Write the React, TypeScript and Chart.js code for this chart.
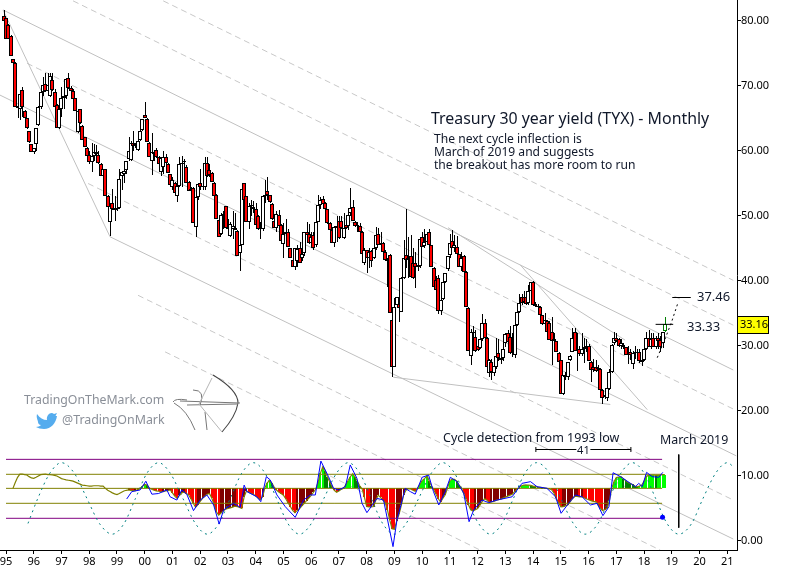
import React, { useEffect, useRef } from "react";
import { Chart, registerables } from "chart.js";

Chart.register(...registerables);

// Candles: one row per month; first month is Dec 1994 (month -1, month 0 = Jan 1995).
const firstCandleMonth = -1;
const opens = [
  80.7,80.4,79.4,77.7,74.1,73.6,66.9,66.4,69.4,66.2,65,63,
  61.1,59.8,61.1,64,66.8,69.1,70.3,69.3,68.5,70.9,69,67,
  63.6,66.4,68.1,68.4,71.2,69.7,69.2,68.1,62.9,66.4,63.9,62.1,
  60.4,59.4,58.3,59.3,59.9,59.4,58,56.2,57.2,53.1,49.1,52,
  50.9,51,51.2,56.2,56.5,57,58.7,58.6,61.2,61,60.2,61.7,
  63.3,65.5,64.9,61.3,58.4,59.8,60.2,59.1,56.8,57.5,59,58,
  56.4,54.5,55,53,54.6,58,58.5,57.6,55.3,54,54.3,48.3,
  52.9,55,54.4,54.4,58.2,57,56.6,55.1,53.3,49.4,47.2,50,
  51.5,48.2,46.9,48,48.2,47.7,44.3,45.6,55,53,49,51.5,
  51.4,51,50,48,48,53,53.8,53.2,51.9,49.3,48.1,50.2,
  48.6,45.7,47.2,47.6,45,43.2,42.2,43,45,43.5,44.3,47.5,
  47.3,45.8,47.1,45.5,49.1,51.7,52.6,52,51,48.9,47.9,45.9,
  48.2,49.3,49.3,46.6,48.6,48.4,50.4,51.4,49.1,48.4,48.4,47.6,
  42.8,44.7,43.6,44.6,43.6,45,47.2,45.6,45.8,44.5,43.2,44,
  34,26.8,36.3,36.5,35.3,40.5,44,43.2,43.9,42.7,42.7,42.2,
  42.3,46.8,45.4,46,47.6,45.5,42,40.2,40.4,35.4,37.2,39.9,
  41.8,44,46.2,45,45.2,44.1,42.1,43.8,41.4,35.9,28.5,32,
  31.4,30,29.7,31,33.5,31.3,25.9,27.5,25.9,26.8,28.9,28.1,
  28.2,30.5,32,31.4,28.9,28.6,33.2,35.3,37.6,37.6,37.5,36.6,
  38.4,39.8,36.4,36.2,36,34.7,33.4,33.9,33.6,32.2,30.8,30.7,
  28.9,27.8,22.6,25.5,25.3,27.9,29.1,32.1,29.3,29.5,28.8,29.5,
  29.8,30,27.6,26.8,26.8,26.5,26.5,23.3,22.2,22,23.4,26,
  30.4,31.3,31,30,30.2,29.8,28.6,29,27.3,28.9,28.9,29.1,
  27.5,27.9,29.5,31.3,29.9,31.3,29.9,31.2,30.9,30.4,32.3,
];
const highs = [
  81.7,80.5,79.5,77.8,74.2,73.7,67.5,69,69.8,66.3,65.1,63.1,
  61.1,60.5,63.5,66.9,69,71.4,72,72,72,72,69.5,67.2,
  66.4,69.9,68.5,71.2,72,70,69.5,68.2,66.1,66.5,64,62.2,
  60.6,60,61.2,61,60.9,60,58.1,57.3,57.3,53.2,51.6,54.2,
  53,53.5,57.3,56.9,57,58.5,62.2,61.5,63,61.2,62,64.3,
  64.9,67.6,65,61.4,62.7,60,60.5,59.3,59,60,59.5,58.1,
  56.5,56,55.2,54.8,59.1,59.2,58.8,57.8,55.4,54.5,54.5,52.9,
  55,57.3,55,59,59,58,56.8,55.2,53.4,49.5,50.5,50.8,
  51.6,49.5,49,50.7,50.5,47.8,46,54.1,55.1,53.1,52,52.5,
  52.3,52,50.2,49,53.1,55.5,56,53.3,52,49.5,50.7,50.9,
  48.7,48.9,49.5,48,45.1,43.4,45.1,45.5,46,45,47.6,49,
  48.8,47.5,47.5,49.2,53.2,52.9,53,52.2,51.1,49,48,48.5,
  50,50,50,50.4,49,51,54.3,52.5,49.3,49,48.9,47.7,
  45,44.8,45,44.8,45.5,48.3,48.1,47.5,46,44.7,43.5,44.1,
  34.2,37.4,37.5,37,40.6,46.3,51,46.8,47,45,44.5,45.5,
  46.5,47.5,48,47.5,48,45.6,42.1,40.8,40.9,37.5,40,41.3,
  43.9,47.3,47.9,47,46.9,44.2,44.5,44,41.5,36,32.6,33,
  32.5,30.5,31.2,34.9,34.2,31.4,28,28,27,31.2,31,29.5,
  30.5,32,32.5,33,32,33.6,35.5,38,38,38.5,38,39.4,
  39.9,40,36.8,36.5,36.2,34.8,35,34,33.8,34.5,32,30.8,
  29,27.9,25.6,26,27.6,28.6,32.7,32.8,32,30,32,31.2,
  31,30.3,27.7,28,27.8,27,26.6,23.4,22.5,23.5,26.5,30.3,
  32.2,32,31.2,31,30.5,29.9,30,29.6,29.3,30,29.5,29.6,
  28,29.5,32.1,32.4,32,32,31.5,32,31.5,32.2,34.5,
];
const lows = [
  78.6,77.3,77.3,74.6,73.4,66.8,65.1,64.8,65.3,65,63.4,61.3,
  59.8,59.6,60,63.8,66.5,68.5,69,68.5,68.3,69.3,66.6,63.5,
  63.4,65.2,66.5,68,69.6,69.2,68,66.1,62.8,64.2,61.7,60.6,
  59.3,58,56.7,58.5,58.5,58,56.2,55.5,53,51.4,46.9,50.9,
  49.2,50.8,51,54,55,56.5,58.5,58.5,60,60.5,60,61.5,
  63,65,61.4,59.1,56.3,58.5,58.9,58,56.2,56.5,58,56.6,
  54.6,54,53.5,52.2,54.5,54.5,56,55,53.8,53.5,48.9,46.7,
  52.5,54,54,54,56,56,55.3,53.1,49.5,46.8,47,48,
  48,47,46.7,46.5,47.8,43.8,41.5,45.5,52.3,49,48,50,
  50.5,48.6,47.9,46.4,47.7,52,52.5,52,49.4,48.1,47.5,48.3,
  46,43.5,46,45.2,43.5,42.1,41.7,42.2,42.7,43,43.8,46,
  45.7,45,44.8,45.2,49,51,51.8,50.9,48.8,47.8,45.8,45.3,
  46,46.5,48,46.4,48,47.9,50,49.2,48.3,47.5,47.6,44.1,
  42.4,41.2,42,42.1,43.4,44.8,45.5,44.5,44.3,43.2,39,35,
  25.2,26.7,35.8,33.7,35.2,40.3,42,40.5,40.5,40.3,38.9,41.5,
  42,45.3,45,45.8,45.5,42.1,39.1,38.5,34.9,34.7,37,39.7,
  41.5,43.5,45,44.5,44.1,42.1,41.5,41.4,36,29.2,27,29.5,
  29.1,29.3,29.5,30.8,31.3,26.8,25.2,24.7,25.4,26.5,27.7,27.2,
  27.7,29.9,30.5,28.8,28.3,28.1,33,35,36.3,36.5,36.3,36.3,
  38.2,36.2,36,35.8,34.7,33.3,33,32.2,30.9,27,29.5,29.1,
  27.6,22.6,22.4,24.8,24.7,27.7,29,29.2,26.2,28.4,28.5,27.4,
  29,27.7,24.5,26,26,26,23.2,21,21.8,21.6,23.2,25.9,
  30.2,30.6,29.9,29.5,29.5,28.6,27.3,27.8,26.5,28,28.3,27.4,
  26.9,27.7,29.4,29.9,29.5,29.9,29.5,29.5,29,29.7,32.1,
];
const closes = [
  80,77.3,77.3,74.6,73.5,66.8,66.6,68.7,66.7,65,63.5,61.4,
  59.9,60.4,63.5,66.8,69,70.1,69.3,70.2,71.5,69.4,66.7,63.6,
  66.4,68.1,68.5,71.1,69.7,69.3,68,66.2,66.1,64.3,61.7,60.6,
  59.3,58.3,59.3,59.9,59.6,58.1,56.2,57.2,53,51.4,51.6,51,
  51.3,51.2,55.7,56.8,56.9,58.4,60,61.2,60.8,60.7,61.5,63.1,
  64.9,65,61.4,59.1,59.8,59.8,59,58,58.9,59,58.1,56.6,
  54.7,55.5,53.5,54.6,58,58.2,58.3,55.1,53.9,54.1,48.9,52.9,
  54.9,54.4,54.6,58.2,56.2,56.3,55.3,53.1,49.5,46.8,50.1,50.3,
  48.1,48,48.7,48.4,47.9,43.9,45.6,54.1,52.4,49,51.5,51.7,
  51,48.6,48,48.2,53,53.2,53.3,52.2,49.5,48.1,50.3,48.4,
  46.1,47.2,47.6,45.3,43.6,42.2,45,44.9,42.8,44.2,47.6,47.1,
  45.8,46.8,45,49.1,51.7,52.4,51.9,51,48.9,47.9,45.8,48.3,
  48.5,46.6,48.1,48.1,48.1,50.1,51.3,49.3,48.4,48.6,47.6,44.2,
  44.8,43.6,44.5,43.1,45,47.1,45.5,45.9,44.4,43.2,43,35,
  26.8,36,37.5,35.8,40.5,43.5,43.2,43.6,40.6,40.4,42.1,42.5,
  46.5,45.3,46,47.3,45.5,42.1,39.1,38.6,35.4,37,39.9,41.2,
  43.8,45.8,45,45.5,44.2,42.1,43.5,41.4,36,29.2,32.1,32.2,
  29.2,29.4,31,33.6,31.3,26.8,27.8,26,26.9,28.5,28.1,28.2,
  29.6,31.8,30.6,28.9,29,33.2,35.2,36.6,36.6,36.7,36.5,38.4,
  39.9,36.3,36.2,36,34.8,33.4,34,32.2,30.9,30.8,31,29.1,
  27.6,22.6,25.5,25.3,27.5,28.5,31.2,29.3,29.4,28.7,29.5,29.8,
  30,27.7,26.3,26.3,26.2,26.6,23.2,22,22.4,23.5,26,30.2,
  31.3,30.7,30,30.4,29.8,28.6,28.8,28.6,28.9,29,29.1,27.7,
  27.9,29.5,31.3,29.9,31,29.9,31.3,30.8,29.9,32.1,33.35,
];

// Oscillator: smoothed value per month from month 3 (the histogram is drawn from month 53).
const oscStartMonth = 3;
const histStartMonth = 53;
const oscValues = [
  8.1,9,9.8,10.3,10.3,10.2,10.15,9.9,9.7,9.65,9.8,10,10.2,10.26,10.3,10.2,10.2,10.15,10.1,10,9.8,9.6,9.5,9.4,9.35,9.28,9.2,9.05,8.9,8.75,8.6,8.55,8.5,8.45,8.45,8.5,8.5,8.5,8.45,8.45,8.1,7.8,7.6,7.4,7.25,7.15,7.3,7.5,7.7,7.8,
  7.85,7.8,7.75,7.75,7.9,8.05,8.4,8.7,8.6,8.15,7.95,7.8,7.7,7.65,7.6,7.6,7.7,7.75,7.85,7.4,6.9,6.55,7,7.4,7.5,7.3,7.1,6.5,5.8,5.2,5.6,6.1,6.55,6.9,7.2,7.3,6.6,5.6,4.5,4,4.3,4.6,4.9,5,5.1,5.2,5.35,5.3,5.15,5,6.8,7.7,7.5,7.3,7.2,6.9,6.6,6.35,6.8,8.2,8.95,9.3,8.9,8.3,7.85,7.55,7.3,7.05,6.5,5.9,5.3,4.7,4.35,4.7,5,5.4,5.8,6.2,6.6,7,7.5,8,9,10.4,11.4,10.8,9.9,9.1,8.4,7.8,7.5,7.7,7.95,8.1,8.7,9.3,9.9,10.35,9.8,9.2,8.5,8.05,6.8,5.3,5.25,5.25,5.3,6.3,7.05,6.7,6.3,5.9,4.8,3.2,1.9,1.8,3.1,4.1,5.5,7.1,7.8,8.05,8,7.8,7.65,8.1,8.7,9.3,9.6,9.95,9.3,8.5,7.9,7.2,6.5,6,6.6,7.1,8.2,9.3,9.5,9.5,9.2,8.6,8.15,7.3,6.4,5.6,4.8,4.6,4.8,5,5.5,6.1,6.5,6.3,5.95,6,6.1,6.25,6.35,6.45,6.6,6.75,6.9,7.05,7.2,7.6,8,8.2,8.5,8.6,8.6,8.6,8.55,8.45,8.4,8.3,8.25,8.2,8.15,8.1,8,7.9,7.4,6.6,5.9,5.25,5.3,5.45,5.55,6,6.5,6.85,6.85,6.8,6.8,6.65,6.5,6.35,6.2,6.1,6.05,5.6,5.1,4.7,4.8,5.05,6.2,8.1,9.1,9.75,9.85,9.9,9.6,9.3,9,8.85,8.7,8.45,8.35,8.45,8.6,9.2,9.95,10.1,10.15,10.15,10.1,10.1,10.15,10.2,10.2,
];
const oscBase = 8.1;

const fastMonths = [52.2,54.4,58,60.5,63.1,65.9,69.6,71,73.9,76,78.2,81.1,84,86.9,89.8,92.2,94.1,98.4,101.3,103,104.2,108.5,110.2,112.6,114.3,117.2,120.8,125.1,128.7,131.6,133.8,136.2,139.5,141.7,143.9,146.8,148.9,151.8,154,156.1,160.5,163.3,167.4,169.1,172.7,174.9,177,180,182.8,184.9,187.2,190,192.2,195.1,198,200.3,202.3,205.9,208.8,212.4,218.9,223.2,226.9,229.7,234,237.7,240.1,243.4,246.3,249.2,252.8,255.7,258.2,260.8,262.6,265.8,270.1,272.3,273.7,275.2,277.1,279.5,282.4,284.1];
const fastValues = [6.46,7.6,7.85,9.2,7.2,7.3,7.85,6.8,6.3,7.85,7.2,4.67,6.3,7.08,5.54,2.6,4.77,5.8,5.18,8.6,7.6,6.8,6.05,9.9,9.4,7.08,5.28,3.64,6.3,7.08,7.08,12.3,9.9,8.1,7.85,8.36,11.7,9.64,5.8,4.36,6.56,6.3,-0.87,3.2,8.1,7.6,7.2,9.8,10.15,7.6,5.54,7.6,9.8,9.13,7.33,2.97,4.77,6.3,5.9,6.3,6.8,8.87,9.13,8.36,8.1,6.8,4.26,5.8,7.08,6.8,5.54,5.8,3.9,5.28,10.5,9.9,8.87,8.36,8.87,8.36,10.56,9.9,9.8,10.56];

const cycleMonths = [9.5,13.75,19,24,29.5,35,40.5,46,51,56,61,66,71,76.5,82,87,92,97,102,107,112,117,122,127,132,137.5,143,148,153,158,163,168,173,178.5,184,189,194,199,204.5,209.5,214.5,219.5,224.5,229.5,235,240,245.5,250.5,256,261,266,271,276,281,286,291,296.5,301.5,307,312,315];
const cycleValues = [2.7,6.55,10.45,12.05,10.45,6.55,2.65,1.05,2.65,6.55,10.45,12.05,10.45,6.55,2.65,1.05,2.65,6.55,10.45,12.05,10.45,6.55,2.65,1.05,2.65,6.55,10.45,12.05,10.45,6.55,2.65,1.05,2.65,6.55,10.45,12.05,10.45,6.55,2.65,1.05,2.65,6.55,10.45,12.05,10.45,6.55,2.65,1.05,2.65,6.55,10.45,12.05,10.45,6.55,2.65,1.05,2.65,6.55,10.45,12.05,11.3];

const purpleLevels = [12.56, 3.49];
const oliveLevels = [10.26, 8.1, 5.8];
const levelStart = 0;
const levelEnd = 283.8;

// Channel lines: [month, value, month, value]
const solidLines = [
  [-1.3,81.7,314.6,26.3],
  [-2.6,68.6,315.9,13.1],
  [45,46.8,314.6,0.3],
  [-1.3,81.7,45,46.8],
  [167.5,25.2,261.4,21],
  [191.2,48.2,267.8,30.9],
  [222.4,42.5,277.4,20.2],
];
const dashedLines = [
  [29,83.1,314.6,33.2],
  [68,83.1,314.6,40.1],
  [9.1,73.5,314.6,20.3],
  [35.5,55,314.6,6.3],
  [57.1,37.8,283,-1.4],
  [68.8,29.1,244,-1.4],
  [140.2,10,205.1,-1.4],
];

const forecastMonths = [281.7, 285, 288, 290.8];
const forecastValues = [28.2, 31, 33.8, 36.8];
const target1 = { value: 37.46, from: 288.2, to: 296.2 };
const target2 = { value: 33.33, from: 281, to: 288.6 };
const marchMonth = 291;
const marchRange = [13.3, 2.05];
const bracket = { from: 229.2, to: 270.3, value: 14.1, label: "41" };
const lastPrice = 33.16;
const dotPoint = { month: 284, value: 3.64 };

const yearLabels = ["95","96","97","98","99","00","01","02","03","04","05","06","07","08","09","10","11","12","13","14","15","16","17","18","19","20","21"];
const priceTicks = [0,10,20,30,40,50,60,70,80];

const title = "Treasury 30 year yield (TYX) - Monthly";
const noteLines = ["The next cycle inflection is","March of 2019 and suggests","the breakout has more room to run"];
const cycleTitle = "Cycle detection from 1993 low";
const marchTitle = "March 2019";
const siteName = "TradingOnTheMark.com";
const handle = "@TradingOnMark";

const FONT = '"Noto Sans", Tahoma, sans-serif';

const linePair = (s: number[], color: string, dash: number[], order: number) => ({
  type: "line" as const,
  data: [{ x: s[0], y: s[1] }, { x: s[2], y: s[3] }],
  borderColor: color,
  borderWidth: 1,
  borderDash: dash,
  pointRadius: 0,
  order,
  tension: 0,
});

const snapBars: any = {
  id: "snapBars",
  afterDatasetsUpdate(chart: any) {
    chart.data.datasets.forEach((ds: any, idx: number) => {
      if (!ds.snap) return;
      chart.getDatasetMeta(idx).data.forEach((el: any) => {
        const x = Math.round(el.x);
        el.x = ds.snap === "wick" ? x + 0.5 : x;
        const top = Math.round(Math.min(el.y, el.base));
        let bottom = Math.round(Math.max(el.y, el.base));
        if (bottom <= top) bottom = top + (ds.snap === "body" ? 2 : 1);
        el.y = top;
        el.base = bottom;
        el.height = bottom - top;
      });
    });
  },
};

const overlay: any = {
  id: "overlay",
  afterDatasetsDraw(chart: any) {
    const { ctx, scales } = chart;
    const X = scales.x;
    const Y = scales.y;
    ctx.save();
    ctx.textBaseline = "middle";
    ctx.textAlign = "left";
    const text = (s: string, x: number, y: number, size: number, color = "#10182a") => {
      ctx.font = `${size}px ${FONT}`;
      ctx.fillStyle = color;
      ctx.fillText(s, x, y);
    };
    const seg = (x1: number, y1: number, x2: number, y2: number) => {
      ctx.beginPath();
      ctx.moveTo(x1, y1);
      ctx.lineTo(x2, y2);
      ctx.stroke();
    };
    text(title, 431, 119, 15.9);
    noteLines.forEach((l, i) => text(l, 434, 140 + i * 13, 12.1));
    text(cycleTitle, 443, 438, 12.5);
    text(marchTitle, 660, 440, 12.4);
    text("37.46", 697, 297, 13);
    text("33.33", 687, 327, 13);
    text(siteName, 24, 400.5, 12.3, "#8a8f98");
    text(handle, 62, 420, 12.4, "#8a8f98");

    ctx.strokeStyle = "#000";
    ctx.lineWidth = 1;
    const by = Math.round(Y.getPixelForValue(bracket.value)) + 0.5;
    const bx1 = X.getPixelForValue(bracket.from);
    const bx2 = X.getPixelForValue(bracket.to);
    seg(bx1, by, bx2, by);
    seg(bx1, by - 2.5, bx1, by + 2.5);
    seg(bx2, by - 2.5, bx2, by + 2.5);
    const mid = (bx1 + bx2) / 2;
    ctx.fillStyle = "#fff";
    ctx.fillRect(mid - 7, by - 5, 14, 10);
    ctx.textAlign = "center";
    text(bracket.label, mid, by + 1, 11);
    ctx.textAlign = "left";

    // last price tag
    const ty = Y.getPixelForValue(lastPrice + 0.1);
    ctx.fillStyle = "#ffff00";
    ctx.fillRect(737, Math.round(ty) - 8.5, 31, 17);
    ctx.strokeRect(737.5, Math.round(ty) - 8.5, 31, 17);
    text(lastPrice.toFixed(2), 740, ty + 0.5, 11, "#000");

    // blue dot
    ctx.fillStyle = "#0000ff";
    ctx.beginPath();
    ctx.arc(X.getPixelForValue(dotPoint.month), Y.getPixelForValue(dotPoint.value), 2.5, 0, Math.PI * 2);
    ctx.fill();

    // twitter bird
    ctx.fillStyle = "#55acee";
    ctx.beginPath();
    ctx.moveTo(37, 414);
    ctx.bezierCurveTo(40, 418, 43, 420, 47, 420);
    ctx.bezierCurveTo(46, 415, 51, 411, 54, 414);
    ctx.lineTo(57, 413);
    ctx.lineTo(55.5, 416);
    ctx.lineTo(57, 416);
    ctx.bezierCurveTo(56, 423, 51, 429, 44, 429);
    ctx.bezierCurveTo(41, 429, 38, 428, 36, 427);
    ctx.bezierCurveTo(38, 427, 40, 426, 41, 425);
    ctx.bezierCurveTo(39, 425, 38, 423, 38, 422);
    ctx.bezierCurveTo(38, 420, 36, 418, 37, 414);
    ctx.fill();

    // archer mark
    ctx.strokeStyle = "#444";
    ctx.lineWidth = 1.1;
    ctx.beginPath();
    ctx.moveTo(213, 375);
    ctx.quadraticCurveTo(238, 390, 238, 403);
    ctx.quadraticCurveTo(236, 416, 222, 432);
    ctx.stroke();
    ctx.strokeStyle = "#777";
    ctx.lineWidth = 1;
    seg(180, 401, 240, 403);
    seg(187, 405, 238, 404);
    ctx.beginPath();
    ctx.moveTo(173, 402);
    ctx.quadraticCurveTo(175, 398, 187, 400);
    ctx.moveTo(174, 403);
    ctx.quadraticCurveTo(187, 410, 195, 430);
    ctx.stroke();
    ctx.beginPath();
    ctx.moveTo(193, 390);
    ctx.quadraticCurveTo(206, 390, 200, 405);
    ctx.stroke();
    ctx.beginPath();
    ctx.moveTo(205, 412);
    ctx.lineTo(207, 430);
    ctx.stroke();
    ctx.strokeStyle = "#b5b5b5";
    seg(212, 378, 199, 404);
    seg(199, 404, 222, 432);
    ctx.restore();
  },
};

export default function App() {
  const ref = useRef<HTMLCanvasElement | null>(null);
  useEffect(() => {
    if (!ref.current) return;
    const candleX = (i: number) => firstCandleMonth + i;
    const last = closes.length - 1;
    const edge = closes.map((_, i) => (i === last ? "#008000" : "#000000"));
    const fills = closes.map((c, i) => (c < opens[i] ? "#ff0000" : "#ffffff"));
    const histVals = oscValues.slice(histStartMonth - oscStartMonth);
    const histColors = histVals.map((v, i) => {
      const prev = i > 0 ? histVals[i - 1] : v;
      if (v >= oscBase) return v >= prev ? "#00ff00" : "#008000";
      return v >= prev ? "#800000" : "#ff0000";
    });

    const barCommon = { type: "bar" as const, grouped: false, borderSkipped: false, inflateAmount: 0 };
    const datasets: any[] = [
      ...dashedLines.map((s) => linePair(s, "#c8c8c8", [6, 4], 90)),
      ...solidLines.map((s) => linePair(s, "#c0c0c0", [], 89)),
      ...purpleLevels.map((v) => linePair([levelStart, v, levelEnd, v], "#800080", [], 20)),
      {
        ...barCommon,
        snap: "hist",
        data: histVals.map((v, i) => ({ x: histStartMonth + i, y: [oscBase, v] })),
        backgroundColor: histColors,
        barThickness: 2,
        borderWidth: 0,
        order: 30,
      },
      ...oliveLevels.map((v) => linePair([levelStart, v, levelEnd, v], "#808000", [], 19)),
      {
        type: "line",
        data: oscValues.map((v, i) => ({ x: oscStartMonth + i, y: v })),
        borderColor: "#808000",
        borderWidth: 1.2,
        pointRadius: 0,
        tension: 0,
        order: 12,
      },
      {
        type: "line",
        data: fastMonths.map((m, i) => ({ x: m, y: fastValues[i] })),
        borderColor: "#0000ff",
        borderWidth: 1,
        pointRadius: 0,
        tension: 0,
        order: 11,
      },
      {
        type: "line",
        data: cycleMonths.map((m, i) => ({ x: m, y: cycleValues[i] })),
        borderColor: "#008080",
        borderWidth: 1,
        borderDash: [2, 4],
        pointRadius: 0,
        cubicInterpolationMode: "monotone",
        order: 13,
      },
      {
        ...barCommon,
        snap: "wick",
        data: closes.map((_, i) => ({ x: candleX(i), y: [lows[i], highs[i]] })),
        backgroundColor: edge,
        barThickness: 1,
        borderWidth: 0,
        order: 6,
      },
      {
        ...barCommon,
        snap: "body",
        data: closes.map((c, i) => ({ x: candleX(i), y: [opens[i], c] })),
        backgroundColor: fills,
        borderColor: edge,
        borderWidth: 1,
        barThickness: 4,
        order: 5,
      },
      {
        type: "line",
        data: forecastMonths.map((m, i) => ({ x: m, y: forecastValues[i] })),
        borderColor: "#000",
        borderWidth: 1,
        borderDash: [2, 3],
        pointRadius: 0,
        tension: 0,
        order: 3,
      },
      linePair([target1.from, target1.value, target1.to, target1.value], "#000", [], 2),
      linePair([target2.from, target2.value, target2.to, target2.value], "#000", [], 2),
      linePair([marchMonth, marchRange[0], marchMonth, marchRange[1]], "#000", [], 2),
    ];

    const chart = new Chart(ref.current, {
      type: "bar",
      data: { datasets },
      plugins: [snapBars, overlay],
      options: {
        responsive: false,
        devicePixelRatio: 1,
        animation: false,
        events: [],
        layout: { padding: 0 },
        plugins: { legend: { display: false }, tooltip: { enabled: false }, title: { display: false } },
        scales: {
          x: {
            type: "linear",
            offset: false,
            min: -2.6,
            max: 316.2,
            grid: { drawOnChartArea: false, drawTicks: true, tickLength: 4, tickColor: "#000", offset: false },
            border: { display: true, color: "#000", width: 1 },
            afterFit(s: any) { s.height = 34; s.paddingLeft = 0; s.paddingRight = 0; },
            afterBuildTicks(s: any) { s.ticks = yearLabels.map((_, i) => ({ value: i * 12 })); },
            ticks: {
              autoSkip: false,
              maxRotation: 0,
              minRotation: 0,
              padding: 1,
              color: "#000",
              font: { family: FONT, size: 11 },
              callback: (v: any) => yearLabels[Math.round(Number(v) / 12)],
            },
          },
          y: {
            type: "linear",
            position: "right",
            min: -1.385,
            max: 83.23,
            grid: { drawOnChartArea: false, drawTicks: true, tickLength: 4, tickColor: "#000" },
            border: { display: true, color: "#000", width: 1 },
            afterFit(s: any) { s.width = 54; s.paddingTop = 0; s.paddingBottom = 0; },
            afterBuildTicks(s: any) { s.ticks = priceTicks.map((value) => ({ value })); },
            ticks: {
              padding: 0,
              color: "#000",
              font: { family: FONT, size: 11 },
              callback: (v: any) => Number(v).toFixed(2),
            },
          },
        },
      } as any,
    } as any);
    return () => chart.destroy();
  }, []);

  return (
    <div style={{ position: "absolute", left: 0, top: 0, width: 791, height: 584, background: "#fff", overflow: "hidden" }}>
      <canvas ref={ref} width={791} height={584} style={{ display: "block", width: 791, height: 584 }} />
    </div>
  );
}
